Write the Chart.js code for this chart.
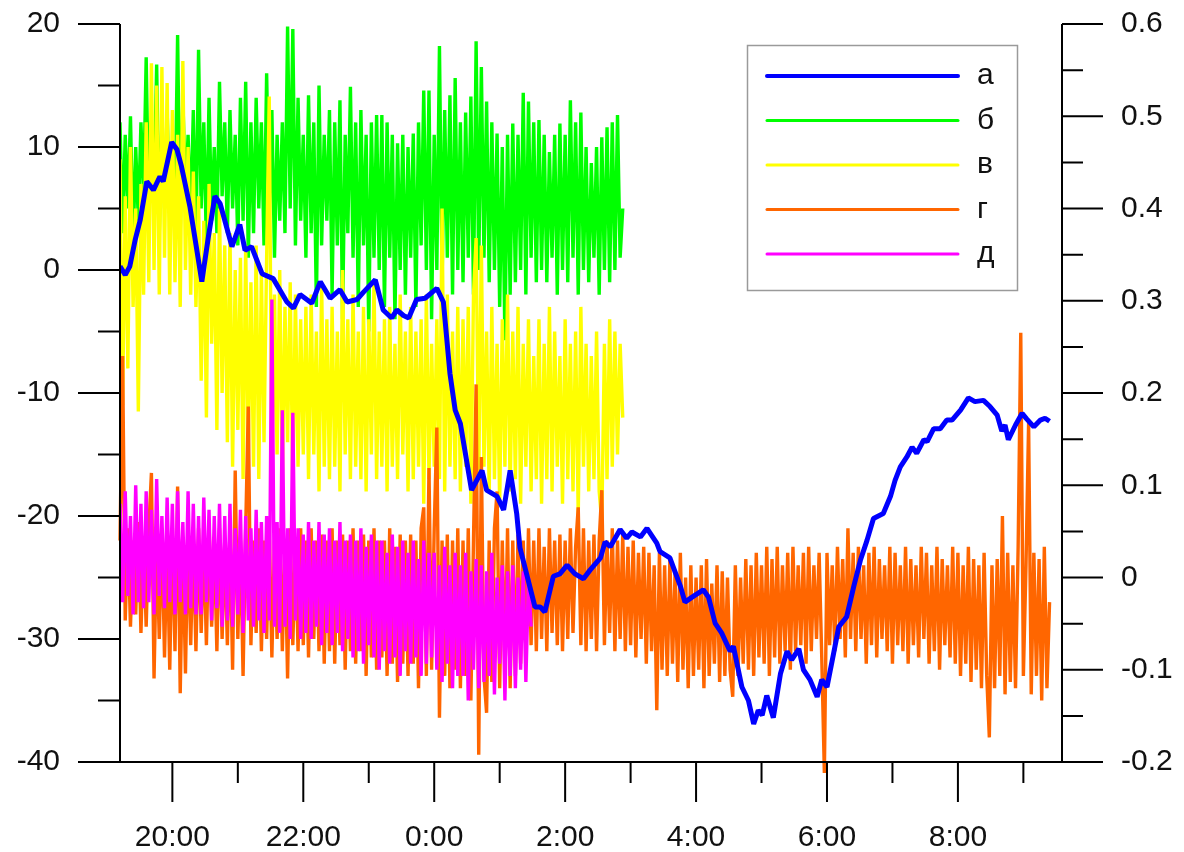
<!DOCTYPE html>
<html>
<head>
  <title>Chart</title>
  <script src="https://cdn.jsdelivr.net/npm/chart.js"></script>
  <style>
    body { margin: 0; background: #fff; }
  </style>
</head>
<body>
  <canvas id="myChart" width="1184" height="852"></canvas>
  <script>
    // time in hours; values after midnight continue past 24
    var blueT = [19.20, 19.28, 19.35, 19.43, 19.51, 19.61, 19.71, 19.81, 19.86, 19.99, 20.07, 20.14, 20.27, 20.45, 20.55, 20.65, 20.73, 20.91, 21.03, 21.11,
      21.21, 21.37, 21.54, 21.75, 21.85, 21.95, 22.13, 22.26, 22.41, 22.56, 22.67, 22.82, 22.92, 23.10, 23.22, 23.35, 23.43, 23.53, 23.61, 23.73,
      23.86, 24.04, 24.14, 24.24, 24.32, 24.40, 24.57, 24.73, 24.80, 24.96, 25.06, 25.16, 25.26, 25.31, 25.54, 25.62, 25.69, 25.82, 25.92, 26.03,
      26.15, 26.28, 26.38, 26.54, 26.61, 26.69, 26.84, 26.94, 27.02, 27.15, 27.25, 27.40, 27.45, 27.60, 27.76, 27.83, 27.94, 28.11, 28.19, 28.29,
      28.39, 28.52, 28.57, 28.70, 28.80, 28.88, 28.95, 29.01, 29.08, 29.18, 29.29, 29.39, 29.46, 29.57, 29.64, 29.74, 29.85, 29.92, 30.00, 30.10,
      30.18, 30.30, 30.41, 30.51, 30.61, 30.71, 30.86, 30.97, 31.04, 31.12, 31.22, 31.30, 31.37, 31.48, 31.53, 31.63, 31.73, 31.83, 31.91, 32.04,
      32.16, 32.26, 32.39, 32.49, 32.60, 32.67, 32.72, 32.77, 32.88, 32.98, 33.05, 33.16, 33.26, 33.33, 33.40];
    var blueV = [0.3, -0.4, 0.3, 2.4, 4.1, 7.2, 6.5, 7.6, 7.2, 10.4, 9.8, 8.4, 5.1, -0.95, 2.7, 6.0, 5.4, 1.9, 3.7, 1.6,
      1.9, -0.3, -0.7, -2.6, -3.1, -2.0, -2.7, -0.95, -2.3, -1.6, -2.6, -2.4, -1.8, -0.8, -3.25, -3.9, -3.25, -3.7, -3.9, -2.4,
      -2.3, -1.5, -2.6, -8.4, -11.4, -12.5, -17.9, -16.3, -17.9, -18.4, -19.5, -16.3, -19.8, -22.6, -27.4, -27.4, -27.8, -24.9, -24.7, -24.0,
      -24.7, -25.1, -24.4, -23.4, -22.1, -22.5, -21.1, -21.8, -21.3, -21.7, -21.0, -22.2, -22.9, -23.4, -25.7, -27.0, -26.6, -26.0, -26.6, -28.7,
      -29.5, -31.0, -30.6, -33.9, -35.0, -36.9, -35.8, -36.2, -34.6, -36.4, -32.8, -31.0, -31.7, -30.8, -32.5, -33.3, -34.7, -33.3, -33.9, -31.2,
      -29.0, -28.2, -25.7, -23.6, -22.0, -20.2, -19.8, -18.4, -17.1, -16.0, -15.2, -14.4, -14.9, -13.8, -13.95, -12.9, -12.9, -12.2, -12.2, -11.4,
      -10.4, -10.7, -10.6, -11.1, -11.8, -13.1, -12.6, -13.8, -12.6, -11.65, -12.1, -12.75, -12.2, -12.05, -12.3];

    // noisy records: first sample at 19:12, one sample every 0.04 h
    var noiseStart = 19.2;
    var noiseStep = 0.04;

    var greenV = [12, 3, 11, 5, 12.5, 2, 10, 4, 12, 6,
      17.3, 4, 11, 6, 16.7, 3, 12, 5, 13, 4,
      10, 5, 19.1, 3, 14, 6, 11, 4, 13, 2,
      17.9, 5, 12, 2, 14, 4, 10, 3, 15.3, 6,
      12, 3, 13, 5, 11, 2, 14, 4, 15.3, 1,
      12, 3, 14, 5, 12, 2, 16, 4, 13, 1,
      11, 4, 12, 3, 19.8, 5, 19.6, 2, 14, 4,
      11, 1, 14.2, 3, 12, -3, 15, 2, 11, 4,
      13, -2, 12, 2, 13.8, -4, 11, 3, 14.9, 1,
      12, -3, 13, 2, 11, -5, 12, 1, 12.6, 0,
      12.6, -3, 12, 1, 11, -4, 10.3, 0, 11, -2,
      10, 1, 11.1, -3, 12, 2, 14.6, 0, 14.6, -4,
      11, 0, 18.2, -1, 13, 1, 14.2, -2, 15.6, 0,
      12, -1, 12.8, 1, 14.1, -2, 18.6, 0, 16.5, 1,
      13.7, -1, 12, 0, 11.1, -3, 10, -5.7, 11, -2,
      11.9, -1, 11, 0, 14.4, -2, 13.7, 1, 12, -1,
      12.2, 0, 11, -1, 9.6, 1, 11, -2, 11.9, 0,
      11, -1, 13.8, 1, 12, -2, 12.8, 0, 10, -1,
      8.7, 1, 10, -2, 10.8, 0, 11.6, -1, 12, 0,
      12.6, 1, 5];

    var yellowV = [9, -11, 6, -8, 10, -3, 5, -11.5, 7, -2,
      12, -1, 16.8, 0, 15, -2, 16.5, 1, 15.2, -2,
      13, -1, 11, -3, 17, 0, 10, -2, 8, -3,
      6, -9, 4, -12, 7, -6, 3, -13, 5, -10,
      2, -14, 3, -16, 0, -13, 1, -17, 2, -15,
      -1, -16, 2, -17, 0, -14, 1, 14.1, -17, -2,
      -15, 0, -17, -3, -14, -1, -18, -2, -16, -4,
      -15, -3, -17, -2, -15, -5, -18, -1, -16, -4,
      -17, -3, -16, -5, -18, 0, -15, -4, -17, -2,
      -16, -5, -17, -3, -18, -4, -15, -1, -17, -5,
      -16, -4, -18, -3, -16, -6, -17, -2, -15, -5,
      -18, -3, -17, -5, -16, -4, -19, -2, -17, -6,
      -16, -4, -17, 5, -18, -2, -16, -5, -17, -3,
      -18, -4, -16, -3, -19, -2, 2.6, -17, 2, -16,
      -5, -18, -3, -17, -6, -19, -4, -16, -2, -18,
      -5, -17, -3, -19, -6, -16, -4, -18, -7, -17,
      -4, -19, -6, -17, -3, -18, -5, -16, -7, -19,
      -4, -17, -6, -18, -5, -20, -3, -16, -6, -18,
      -7, -17, -5, -18, -20.5, -6, -17, -4, -16, -5,
      -15, -6, -12];

    var orangeV = [-22, -7, -28.5, -21, -29, -22, -28, -20.5, -29.5, -22,
      -29, -21, -16.5, -33.2, -22, -30, -21, -31.5, -22, -32.5,
      -21, -31, -17.6, -34.4, -22, -32.8, -21, -30.5, -22, -31,
      -21, -29.5, -22, -30.5, -20.5, -29, -22, -31, -21, -30,
      -22, -30.5, -21, -32.5, -16.3, -30, -22, -33, -21, -11.1,
      -30.5, -22, -29.5, -21, -31, -22, -30, -21, -31.5, -22,
      -30, -21, -31, -22, -33.2, -21, -30.5, -22, -31, -21,
      -30.5, -22, -31.5, -21, -30, -22, -31, -21.5, -32, -22,
      -31, -21, -32, -22, -30.5, -21.5, -32.5, -22, -31, -21,
      -32, -22, -31, -21.5, -33, -22, -31.5, -21, -32.5, -22,
      -31.5, -22, -33, -21, -32, -22.5, -33.5, -21.5, -32, -22,
      -33, -21.5, -32, -22, -34, -21, -19.3, -33, -16.1, -32.5,
      -21, -12.8, -36.4, -22, -33, -21.5, -34, -22, -32.5, -21,
      -34, -22, -33, -21, -35, -22, -9.3, -39.4, -15.2, -33,
      -36, -22, -33.5, -21, -18, -34, -22, -32.5, -21, -34,
      -22, -33, -21.5, -32, -22, -31, -21, -30.5, -22, -31,
      -21, -30, -22.5, -31, -21, -29.5, -22, -30.5, -21.5, -31,
      -22, -30, -21, -29.5, -22.5, -19.3, -30.5, -21, -31, -22,
      -30, -21.5, -31, -22, -17.9, -30.5, -22, -29.5, -21, -31,
      -22, -30, -21.5, -31, -22.5, -30.5, -22, -31.5, -23, -30,
      -22.5, -32, -23, -31, -24, -35.8, -23, -32.5, -24, -33,
      -23.5, -32, -24.5, -33.5, -23, -32.5, -25, -34, -24, -33,
      -25, -32.5, -24, -34, -23.5, -33, -25.5, -32, -24, -33.5,
      -24.5, -33, -25, -32.5, -34.7, -24, -33, -25, -32, -23.5,
      -32.5, -24, -33, -23, -31.5, -24, -32, -22.5, -33, -23.5,
      -31.5, -22.5, -32, -24, -31, -23, -32.5, -22.5, -31, -24,
      -30.5, -23, -32, -22.5, -31, -24, -30, -23, -31.5, -40.9,
      -23, -30.5, -24, -31, -22.5, -30, -23.5, -31.5, -21, -30,
      -23, -31, -22.5, -30, -24, -32, -23, -30.5, -22.5, -31.5,
      -23.5, -30, -24, -31, -22.5, -32, -23, -30.5, -24, -31,
      -22.5, -32, -23.5, -30.5, -24, -31.5, -22.5, -30, -23, -32,
      -24, -31, -22.5, -32.5, -23.5, -30.5, -24, -31.5, -22.5, -32,
      -23, -33, -24, -32, -22.5, -33.5, -23.5, -32.5, -24, -34,
      -23, -33, -38, -24, -34, -23.5, -33, -20, -34.5, -23,
      -33.5, -24, -34, -22.5, -5.1, -33, -24, -12.4, -34.5, -23,
      -33, -23.5, -35, -22.5, -34, -27];

    var magentaV = [-19, -27, -18, -26.5, -20, -28, -17.5, -27, -19, -27.5,
      -18, -27, -19.5, -28, -17, -26.5, -20, -27.5, -18.5, -27,
      -19, -28, -18, -27, -20.5, -28, -18, -27.5, -19, -28,
      -20, -28, -18.5, -27, -19.5, -28.5, -20, -27.5, -19, -29,
      -20, -28.5, -19, -29, -21, -28, -19.5, -29.5, -20, -28.5,
      -21, -29, -19.5, -28.5, -20.5, -29.5, -20, -28.5, -2.4, -29,
      -20.5, -29.5, -11.4, -29, -21, -30, -11.6, -28.5, -21, -30,
      -21.5, -29.5, -20.5, -30, -22, -29, -20.5, -30.5, -21.5, -29.5,
      -21, -30.5, -22, -29.5, -20.5, -31, -22, -30, -21.5, -31.5,
      -22, -31, -21, -32, -22.5, -30.5, -21.5, -31.5, -22, -32.5,
      -22, -31, -23, -32, -21.5, -31.5, -22.5, -33, -22, -31,
      -23, -32, -22, -31.5, -23.5, -33, -22, -32, -23, -31.5,
      -23, -32.5, -24, -33.5, -22.5, -32, -24, -34, -23, -33,
      -24, -33, -23, -35, -24.5, -32.5, -23.5, -34, -24, -33.5,
      -24.5, -33, -23, -34.5, -25, -32, -24, -35, -24.5, -33,
      -24, -34, -25, -32.5, -24.5, -33.5, -25, -29];

    var seriesLabels = ['а', 'б', 'в', 'г', 'д'];

    var leftMajor = [20, 10, 0, -10, -20, -30, -40];
    var leftMinor = [15, 5, -5, -15, -25, -35];
    var rightMajor = [0.6, 0.5, 0.4, 0.3, 0.2, 0.1, 0, -0.1, -0.2];
    var rightMinor = [0.55, 0.45, 0.35, 0.25, 0.15, 0.05, -0.05, -0.15];
    var xMajor = [20, 22, 24, 26, 28, 30, 32];
    var xLabels = ['20:00', '22:00', '0:00', '2:00', '4:00', '6:00', '8:00'];
    var xMinor = [21, 23, 25, 27, 29, 31, 33];

    var FONT = '"Liberation Sans", Arial, sans-serif';

    function noisePoints(values) {
      return values.map(function (v, i) { return { x: noiseStart + i * noiseStep, y: v }; });
    }

    var bluePoints = blueT.map(function (t, i) { return { x: t, y: blueV[i] }; });

    // keep the plot box fixed: no extra room for the end labels
    function fixSize(prop, size) {
      return function (s) {
        s[prop] = size;
        s.paddingTop = 0; s.paddingBottom = 0;
        s.paddingLeft = 0; s.paddingRight = 0;
      };
    }

    // axes with long and short ticks, drawn from the chart scales
    var axesPlugin = {
      id: 'axesPlugin',
      afterDraw: function (chart) {
        var ctx = chart.ctx;
        var a = chart.chartArea;
        var sx = chart.scales.x, sy = chart.scales.y, sy1 = chart.scales.y1;
        ctx.save();
        ctx.strokeStyle = '#000';
        ctx.lineWidth = 2;
        ctx.beginPath();
        ctx.moveTo(a.left, a.top); ctx.lineTo(a.left, a.bottom);
        ctx.moveTo(a.right, a.top); ctx.lineTo(a.right, a.bottom);
        ctx.moveTo(a.left, a.bottom); ctx.lineTo(a.right, a.bottom);
        leftMajor.forEach(function (v) { var p = sy.getPixelForValue(v); ctx.moveTo(a.left - 42, p); ctx.lineTo(a.left, p); });
        leftMinor.forEach(function (v) { var p = sy.getPixelForValue(v); ctx.moveTo(a.left - 22, p); ctx.lineTo(a.left, p); });
        rightMajor.forEach(function (v) { var p = sy1.getPixelForValue(v); ctx.moveTo(a.right, p); ctx.lineTo(a.right + 41, p); });
        rightMinor.forEach(function (v) { var p = sy1.getPixelForValue(v); ctx.moveTo(a.right, p); ctx.lineTo(a.right + 21, p); });
        xMajor.forEach(function (v) { var p = sx.getPixelForValue(v); ctx.moveTo(p, a.bottom); ctx.lineTo(p, a.bottom + 40); });
        xMinor.forEach(function (v) { var p = sx.getPixelForValue(v); ctx.moveTo(p, a.bottom); ctx.lineTo(p, a.bottom + 21); });
        ctx.stroke();
        ctx.restore();
      }
    };

    // boxed legend in the upper right
    var legendBox = {
      id: 'legendBox',
      afterDraw: function (chart) {
        var ctx = chart.ctx;
        ctx.save();
        ctx.fillStyle = '#fff';
        ctx.fillRect(747, 45, 270, 245);
        ctx.strokeStyle = '#9a9a9a';
        ctx.lineWidth = 1.5;
        ctx.strokeRect(747.5, 45.5, 270, 245);
        chart.data.datasets.forEach(function (ds, i) {
          var y = 76 + i * 44.5;
          ctx.strokeStyle = ds.borderColor;
          ctx.lineWidth = i === 0 ? 4 : 3;
          ctx.lineCap = 'round';
          ctx.beginPath();
          ctx.moveTo(767, y);
          ctx.lineTo(958, y);
          ctx.stroke();
          ctx.fillStyle = '#111';
          ctx.font = '30px ' + FONT;
          ctx.textAlign = 'left';
          ctx.textBaseline = 'middle';
          ctx.fillText(ds.label, 977, y);
        });
        ctx.restore();
      }
    };

    var tickFont = { family: FONT, size: 30 };
    var noiseWidth = 3.4;

    var ctx = document.getElementById('myChart').getContext('2d');
    var myChart = new Chart(ctx, {
      type: 'line',
      data: {
        datasets: [
          { label: seriesLabels[0], data: bluePoints, borderColor: '#0000ff', borderWidth: 5, order: 0 },
          { label: seriesLabels[1], data: noisePoints(greenV), borderColor: '#00ff00', borderWidth: noiseWidth, order: 4 },
          { label: seriesLabels[2], data: noisePoints(yellowV), borderColor: '#ffff00', borderWidth: noiseWidth, order: 3 },
          { label: seriesLabels[3], data: noisePoints(orangeV), borderColor: '#ff6600', borderWidth: noiseWidth, order: 2, clip: false },
          { label: seriesLabels[4], data: noisePoints(magentaV), borderColor: '#ff00ff', borderWidth: noiseWidth, order: 1 }
        ]
      },
      options: {
        responsive: false,
        animation: false,
        layout: { padding: { top: 24, left: 0, right: 0, bottom: 0 } },
        elements: {
          point: { radius: 0 },
          line: { tension: 0, fill: false, borderJoinStyle: 'bevel' }
        },
        plugins: {
          legend: { display: false },
          tooltip: { enabled: false }
        },
        scales: {
          x: {
            type: 'linear',
            min: 19.2,
            max: 33.59,
            grid: { display: false, drawTicks: false },
            border: { display: false },
            afterBuildTicks: function (s) { s.ticks = xMajor.map(function (v) { return { value: v }; }); },
            afterFit: fixSize('height', 90),
            ticks: {
              autoSkip: false, maxRotation: 0, padding: 58, color: '#111', font: tickFont,
              callback: function (v) { return xLabels[xMajor.indexOf(v)]; }
            }
          },
          y: {
            position: 'left',
            min: -40,
            max: 20,
            grid: { display: false, drawTicks: false },
            border: { display: false },
            afterBuildTicks: function (s) { s.ticks = leftMajor.map(function (v) { return { value: v }; }); },
            afterFit: fixSize('width', 120),
            ticks: {
              autoSkip: false, padding: 60, color: '#111', font: tickFont,
              callback: function (v) { return String(v); }
            }
          },
          y1: {
            position: 'right',
            min: -0.2,
            max: 0.6,
            grid: { display: false, drawTicks: false },
            border: { display: false },
            afterBuildTicks: function (s) { s.ticks = rightMajor.map(function (v) { return { value: v }; }); },
            afterFit: fixSize('width', 122),
            ticks: {
              autoSkip: false, padding: 59, color: '#111', font: tickFont,
              callback: function (v) { return v === 0 ? '0' : v.toFixed(1); }
            }
          }
        }
      },
      plugins: [axesPlugin, legendBox]
    });
  </script>
</body>
</html>
